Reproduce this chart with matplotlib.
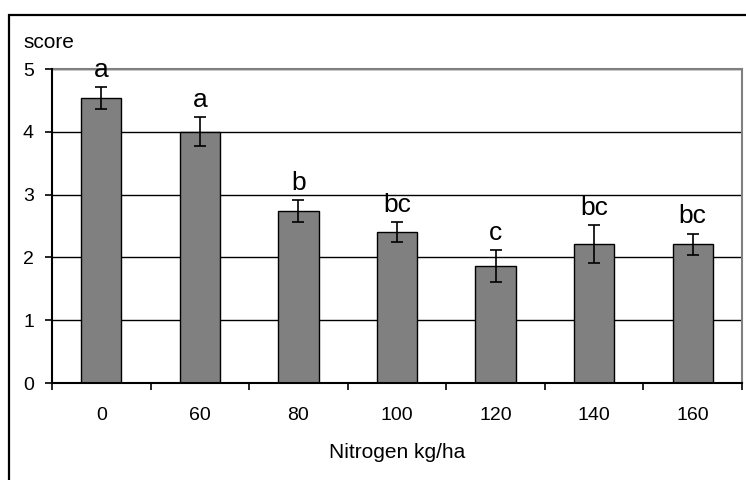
import numpy as np
import matplotlib.pyplot as plt
from matplotlib.patches import Rectangle
from matplotlib.ticker import FixedLocator, NullFormatter

plt.rcParams['font.family'] = ['Liberation Sans', 'DejaVu Sans']

# nitrogen rate vs score
rates = ['0', '60', '80', '100', '120', '140', '160']
score = [4.54, 4.00, 2.74, 2.40, 1.86, 2.21, 2.21]
err = [0.17, 0.23, 0.17, 0.16, 0.25, 0.30, 0.17]
letters = ['a', 'a', 'b', 'bc', 'c', 'bc', 'bc']

W, H = 746, 480
fig = plt.figure(figsize=(W / 100, H / 100), dpi=100)
ax = fig.add_axes([52 / W, 1 - 383 / H, 690 / W, 314 / H])

x = np.arange(len(rates))
ax.bar(x, score, width=0.41, color='#808080', edgecolor='black', linewidth=1, zorder=3)
ax.errorbar(x, score, yerr=err, fmt='none', ecolor='black', elinewidth=1.2,
            capsize=4, capthick=1.2, zorder=4)

for xi, s, e, l in zip(x, score, err, letters):
    ax.annotate(l, (xi, s + e), xytext=(0, 4), textcoords='offset points',
                ha='center', va='bottom', fontsize=19)

ax.set_xlim(-0.5, len(rates) - 0.5)
ax.set_ylim(0, 5)
ax.set_yticks(range(6))
ax.yaxis.grid(True, color='black', linewidth=1)
ax.set_axisbelow(True)

# category labels in the middle, tick marks between categories
ax.set_xticks(x)
ax.set_xticklabels(rates)
ax.xaxis.set_minor_locator(FixedLocator(np.arange(-0.5, len(rates), 1)))
ax.xaxis.set_minor_formatter(NullFormatter())
ax.tick_params(axis='x', which='major', length=0, pad=17, labelsize=14)
ax.tick_params(axis='x', which='minor', length=5, width=1.2, direction='out')
ax.tick_params(axis='y', length=5, width=1.2, direction='out', labelsize=14, pad=8)

for side in ['left', 'bottom']:
    ax.spines[side].set_linewidth(1.5)
    ax.spines[side].set_zorder(5)
for side in ['top', 'right']:
    ax.spines[side].set_color('#808080')
    ax.spines[side].set_linewidth(1.5)

ax.set_xlabel('Nitrogen kg/ha', fontsize=15)
ax.xaxis.label.set_va('center')
ax.xaxis.set_label_coords(0.5, -(453 - 383) / 314)
fig.text(23 / W, 1 - 42 / H, 'score', fontsize=15, ha='left', va='center')

# chart frame, runs off the right and bottom edges
fig.patches.append(Rectangle((8.5 / W, -0.1), 1.2, 1.1 - 14.5 / H, transform=fig.transFigure,
                             fill=False, edgecolor='black', linewidth=1.6))

fig.savefig('out.png', dpi=100)
